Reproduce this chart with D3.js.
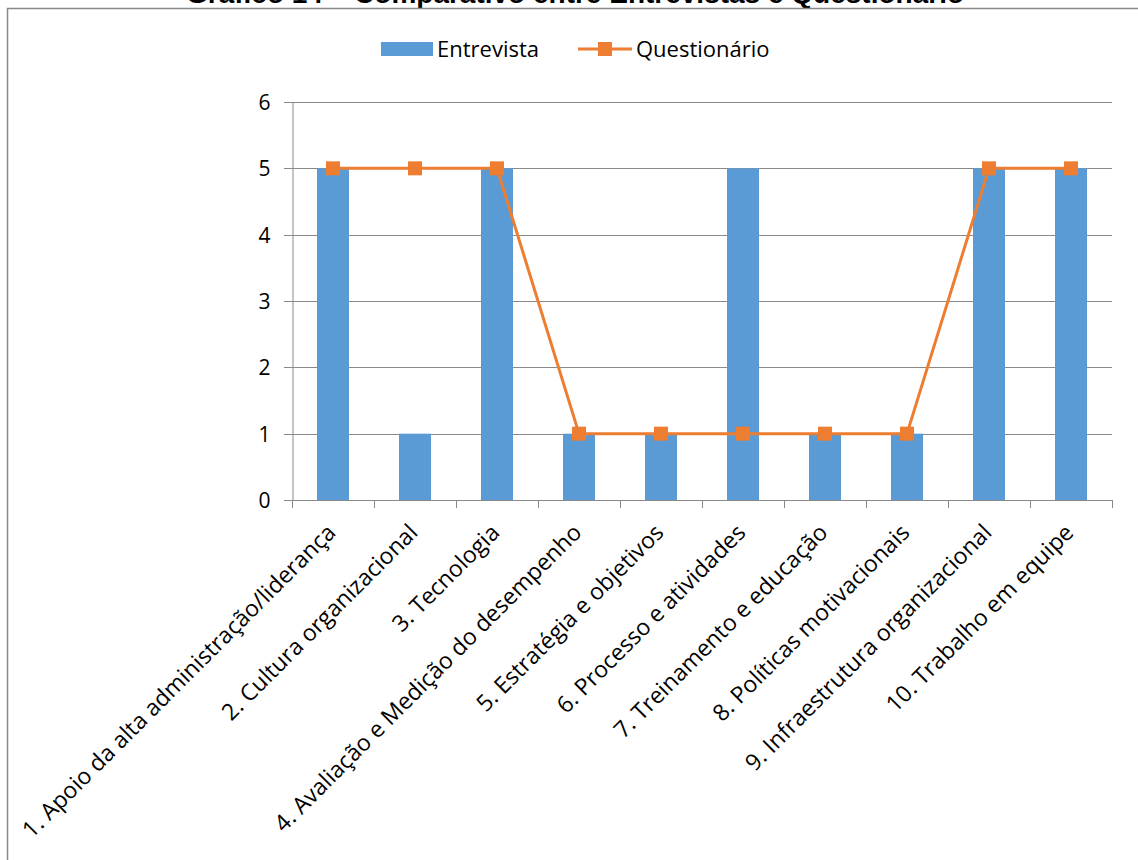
<!DOCTYPE html>
<html lang="pt">

<head>
  <meta charset="utf-8">
  <title> Comparativo entre Entrevistas e Questionário </title>
  <script src="https://d3js.org/d3.v7.min.js"></script>
  <style>
    body {
      margin: 0;
      background: #fff;
    }

    text {
      font-family: "Open Sans", Lato, sans-serif;
      fill: #000;
    }
  </style>
</head>

<body>
  <script>
    // Data
    var categories = [
      "1. Apoio da alta administração/liderança",
      "2. Cultura organizacional",
      "3. Tecnologia",
      "4. Avaliação e Medição do desempenho",
      "5. Estratégia e objetivos",
      "6. Processo e atividades",
      "7. Treinamento e educação",
      "8. Políticas motivacionais",
      "9. Infraestrutura organizacional",
      "10. Trabalho em equipe"
    ];
    var entrevista = [5, 1, 5, 1, 1, 5, 1, 1, 5, 5];
    var questionario = [5, 5, 5, 1, 1, 1, 1, 1, 5, 5];
    var yTicks = [0, 1, 2, 3, 4, 5, 6];
    var seriesNames = ["Entrevista", "Questionário"];
    var titleText = "Gráfico 14 – Comparativo entre Entrevistas e Questionário";

    var blue = "#5B9BD5",
      orange = "#ED7D31",
      grid = "#898989";

    var svg = d3.select("body")
      .append("svg")
      .attr("width", 1138)
      .attr("height", 860);

    // Title (cut off at top) and frame
    svg.append("text")
      .attr("x", 575)
      .attr("y", 3)
      .attr("text-anchor", "middle")
      .style("font-family", "'Liberation Sans', Arial, sans-serif")
      .style("font-weight", "bold")
      .style("font-size", "28px")
      .text(titleText);

    svg.append("path")
      .attr("d", "M7.5,870V8.5H1150")
      .attr("fill", "none")
      .attr("stroke", grid)
      .attr("stroke-width", 1.5);

    // Scales
    var x = d3.scaleBand()
      .domain(categories)
      .range([292, 1112])
      .paddingInner(0)
      .paddingOuter(0);

    var y = d3.scaleLinear()
      .domain([0, 6])
      .range([500, 102]);

    // Grid lines
    svg.append("g")
      .selectAll("line")
      .data(yTicks)
      .enter().append("line")
      .attr("x1", 284)
      .attr("x2", 1112)
      .attr("y1", function(d) { return Math.round(y(d)) + 0.5; })
      .attr("y2", function(d) { return Math.round(y(d)) + 0.5; })
      .attr("stroke", grid)
      .attr("stroke-width", 1);

    // Y axis
    var yAxis = svg.append("g")
      .attr("transform", "translate(292.5,0)")
      .call(d3.axisLeft(y).tickValues(yTicks).tickFormat(d3.format("d")).tickSize(0).tickPadding(22));
    yAxis.select(".domain").attr("stroke", grid);
    yAxis.selectAll("text")
      .style("font-size", "21px")
      .attr("dy", "0.35em");

    // X axis ticks
    svg.append("g")
      .selectAll("line")
      .data(d3.range(categories.length + 1))
      .enter().append("line")
      .attr("x1", function(i) { return Math.round(292 + i * x.bandwidth()) + 0.5; })
      .attr("x2", function(i) { return Math.round(292 + i * x.bandwidth()) + 0.5; })
      .attr("y1", 500)
      .attr("y2", 508)
      .attr("stroke", grid);

    svg.append("g")
      .selectAll("text")
      .data(categories)
      .enter().append("text")
      .attr("text-anchor", "end")
      .attr("transform", function(d) {
        return "translate(" + (x(d) + x.bandwidth() / 2 + 4) + ",534) rotate(-45)";
      })
      .style("font-size", "23px")
      .text(function(d) { return d; });

    // Bars
    var barW = 32;
    svg.append("g")
      .selectAll("rect")
      .data(entrevista)
      .enter().append("rect")
      .attr("x", function(d, i) { return x(categories[i]) + x.bandwidth() / 2 - barW / 2; })
      .attr("y", function(d) { return y(d); })
      .attr("width", barW)
      .attr("height", function(d) { return y(0) - y(d); })
      .attr("fill", blue);

    // Line
    var line = d3.line()
      .x(function(d, i) { return x(categories[i]) + x.bandwidth() / 2; })
      .y(function(d) { return y(d); });

    svg.append("path")
      .datum(questionario)
      .attr("d", line)
      .attr("fill", "none")
      .attr("stroke", orange)
      .attr("stroke-width", 3)
      .attr("stroke-linejoin", "round");

    var mk = 14;
    svg.append("g")
      .selectAll("rect")
      .data(questionario)
      .enter().append("rect")
      .attr("x", function(d, i) { return x(categories[i]) + x.bandwidth() / 2 - mk / 2; })
      .attr("y", function(d) { return y(d) - mk / 2; })
      .attr("width", mk)
      .attr("height", mk)
      .attr("fill", orange);

    // Legend
    var legend = svg.append("g");
    legend.append("rect")
      .attr("x", 381)
      .attr("y", 42)
      .attr("width", 52)
      .attr("height", 14)
      .attr("fill", blue);
    legend.append("text")
      .attr("x", 437)
      .attr("y", 49)
      .attr("dy", "0.35em")
      .style("font-size", "22px")
      .text(seriesNames[0]);
    legend.append("line")
      .attr("x1", 578)
      .attr("x2", 632)
      .attr("y1", 49)
      .attr("y2", 49)
      .attr("stroke", orange)
      .attr("stroke-width", 3);
    legend.append("rect")
      .attr("x", 605 - mk / 2)
      .attr("y", 49 - mk / 2)
      .attr("width", mk)
      .attr("height", mk)
      .attr("fill", orange);
    legend.append("text")
      .attr("x", 636)
      .attr("y", 49)
      .attr("dy", "0.35em")
      .style("font-size", "22px")
      .text(seriesNames[1]);
  </script>
</body>

</html>
